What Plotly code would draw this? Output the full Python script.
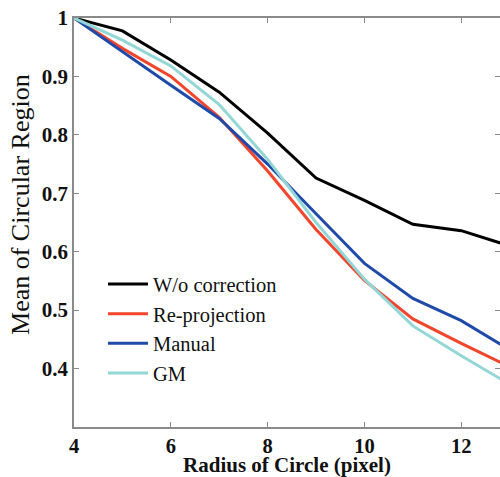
import plotly.graph_objects as go

radius = [4, 5, 6, 7, 8, 9, 10, 11, 12, 13]
wo_correction = [1.0, 0.978, 0.928, 0.873, 0.803, 0.726, 0.688, 0.647, 0.636, 0.61]
re_projection = [1.0, 0.948, 0.900, 0.830, 0.738, 0.638, 0.551, 0.485, 0.443, 0.403]
manual = [1.0, 0.942, 0.885, 0.828, 0.750, 0.665, 0.580, 0.520, 0.482, 0.432]
gm = [1.0, 0.962, 0.918, 0.852, 0.758, 0.650, 0.553, 0.473, 0.422, 0.373]

series = [
    ("W/o correction", wo_correction, "#000000"),
    ("Re-projection", re_projection, "#f2452c"),
    ("Manual", manual, "#1f4aaa"),
    ("GM", gm, "#93d6d6"),
]

fig = go.Figure()
for name, vals, color in series:
    fig.add_trace(go.Scatter(x=radius, y=vals, mode="lines", name=name,
                             line=dict(color=color, width=3)))

serif = "Liberation Serif, Times New Roman, serif"
tickfont = dict(family=serif, size=21, color="#111", weight="bold")
axis_common = dict(
    showline=True, linecolor="#8a8a8a", linewidth=1.5, mirror="ticks",
    ticks="inside", ticklen=5, tickcolor="#8a8a8a", showgrid=False, zeroline=False,
    tickfont=tickfont,
)
fig.update_layout(
    width=500, height=477,
    margin=dict(l=74, r=0, t=18, b=50, autoexpand=False),
    paper_bgcolor="white", plot_bgcolor="white",
    showlegend=True,
    legend=dict(x=0.068, y=0.398, xanchor="left", yanchor="top",
                bgcolor="rgba(0,0,0,0)", font=dict(family=serif, size=20.5, color="#111"),
                tracegroupgap=0, itemwidth=40),
    xaxis=dict(range=[4, 12.8], tickvals=[4, 6, 8, 10, 12],
               ticklabelstandoff=0,
               tickfont=dict(family=serif, size=20.5, color="#111", weight="bold"),
               title=dict(text="<b>Radius of Circle (pixel)</b>", standoff=4,
                          font=dict(family=serif, size=21, color="#111")),
               **{k: v for k, v in axis_common.items() if k != "tickfont"}),
    yaxis=dict(range=[0.3, 1.0], tickvals=[0.4, 0.5, 0.6, 0.7, 0.8, 0.9, 1.0],
               ticktext=["0.4", "0.5", "0.6", "0.7", "0.8", "0.9", "1"],
               **axis_common),
    annotations=[dict(text="Mean of Circular Region", textangle=-90,
                      xref="paper", yref="paper", x=-0.127, y=0.545,
                      xanchor="center", yanchor="middle", showarrow=False,
                      font=dict(family=serif, size=26, color="#111"))],
)
fig.write_html(
    "out.html",
    config={"displayModeBar": False},
    post_script="document.body.style.margin='0';document.body.style.overflow='hidden';",
)
